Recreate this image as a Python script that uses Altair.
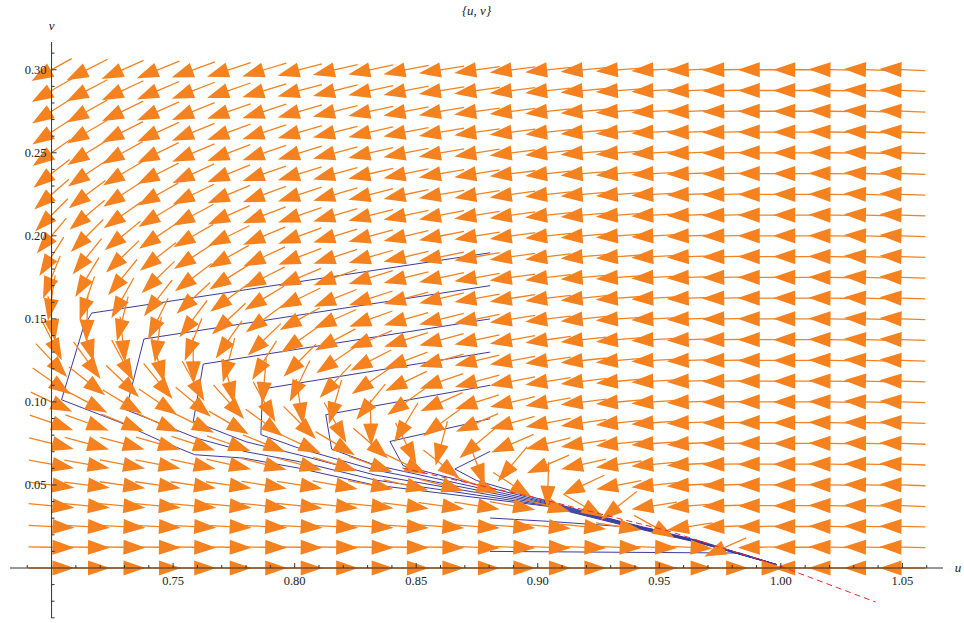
import altair as alt
import pandas as pd

# ---- plot range (data units) ----
U_MIN, U_MAX = 0.6829, 1.0667
V_MIN, V_MAX = -0.0301, 0.3167
W, H = 933, 576

# ---- vector field: grid and arrow directions (degrees on screen, counter-clockwise from +u) ----
grid_u = [0.7000, 0.7146, 0.7292, 0.7438, 0.7583, 0.7729, 0.7875, 0.8021, 0.8167, 0.8313, 0.8458, 0.8604, 0.8750,
          0.8896, 0.9042, 0.9188, 0.9333, 0.9479, 0.9625, 0.9771, 0.9917, 1.0063, 1.0208, 1.0354, 1.0500]
grid_v = [0.0, 0.0125, 0.025, 0.0375, 0.05, 0.0625, 0.075, 0.0875, 0.1, 0.1125, 0.125, 0.1375, 0.15,
          0.1625, 0.175, 0.1875, 0.2, 0.2125, 0.225, 0.2375, 0.25, 0.2625, 0.275, 0.2875, 0.3]
dir_rows = [
    [0, 0, 0, 0, 0, 0, 0, 0, 0, 0, 0, 0, 0, 0, 0, 0, 0, 0, 0, 0, 0, 180, 180, 180, 180],
    [-1, -1, -1, -1, -1, -1, -1, -1, -1, -1, -1, -1, -2, -2, -2, -2, -2, -2, -3, -156, -179, 180, 179, 179, 179],
    [-3, -3, -3, -3, -3, -3, -3, -3, -3, -3, -4, -4, -4, -4, -5, -6, -9, -29, -171, -178, -179, 180, 179, 179, 179],
    [-5, -5, -5, -5, -5, -5, -6, -6, -6, -6, -7, -8, -9, -10, -15, -30, -142, -171, -176, -178, -180, 180, 179, 179, 178],
    [-7, -7, -8, -8, -8, -8, -9, -9, -10, -11, -13, -15, -20, -33, -92, -155, -169, -174, -177, -178, -180, 180, 179, 179, 178],
    [-10, -10, -11, -11, -12, -13, -14, -15, -17, -20, -26, -38, -70, -130, -157, -167, -172, -175, -177, -179, -180, 180, 179, 179, 178],
    [-14, -15, -15, -16, -18, -19, -22, -25, -31, -41, -63, -105, -140, -157, -166, -171, -174, -176, -177, -179, -180, 180, 179, 179, 178],
    [-19, -20, -22, -24, -26, -30, -36, -45, -61, -89, -121, -144, -157, -164, -169, -172, -174, -176, -178, -179, -180, 180, 179, 179, 178],
    [-25, -28, -31, -34, -40, -48, -61, -81, -106, -129, -145, -156, -162, -167, -170, -173, -175, -176, -178, -179, -180, 180, 179, 178, 178],
    [-35, -38, -44, -51, -61, -76, -95, -116, -133, -146, -155, -161, -165, -169, -171, -173, -175, -177, -178, -179, -180, 180, 179, 178, 178],
    [-47, -54, -62, -74, -89, -105, -122, -135, -146, -153, -159, -164, -167, -170, -172, -174, -175, -177, -178, -179, -180, 180, 179, 178, 178],
    [-63, -73, -84, -98, -112, -125, -136, -145, -152, -157, -162, -165, -168, -170, -172, -174, -175, -177, -178, -179, -180, 180, 179, 178, 178],
    [-81, -92, -104, -116, -127, -137, -144, -151, -156, -160, -164, -166, -169, -171, -173, -174, -176, -177, -178, -179, -180, 180, 179, 178, 178],
    [-99, -109, -119, -128, -137, -144, -149, -154, -158, -162, -165, -167, -170, -171, -173, -174, -176, -177, -178, -179, -180, 180, 179, 178, 178],
    [-112, -121, -129, -136, -143, -148, -153, -157, -160, -163, -166, -168, -170, -172, -173, -175, -176, -177, -178, -179, -180, 180, 179, 178, 178],
    [-122, -129, -136, -142, -147, -151, -155, -159, -162, -164, -167, -169, -170, -172, -173, -175, -176, -177, -178, -179, -180, 180, 179, 178, 178],
    [-130, -135, -141, -146, -150, -154, -157, -160, -163, -165, -167, -169, -171, -172, -174, -175, -176, -177, -178, -179, -180, 180, 179, 178, 178],
    [-135, -140, -145, -149, -152, -156, -159, -161, -164, -166, -168, -169, -171, -172, -174, -175, -176, -177, -178, -179, -180, 180, 179, 178, 178],
    [-139, -143, -147, -151, -154, -157, -160, -162, -164, -166, -168, -170, -171, -172, -174, -175, -176, -177, -178, -179, -180, 180, 179, 178, 178],
    [-142, -146, -149, -153, -155, -158, -161, -163, -165, -167, -168, -170, -171, -173, -174, -175, -176, -177, -178, -179, -180, 180, 179, 178, 178],
    [-145, -148, -151, -154, -157, -159, -161, -163, -165, -167, -169, -170, -171, -173, -174, -175, -176, -177, -178, -179, -180, 180, 179, 178, 178],
    [-147, -150, -153, -155, -158, -160, -162, -164, -166, -167, -169, -170, -172, -173, -174, -175, -176, -177, -178, -179, -180, 180, 179, 178, 178],
    [-148, -151, -154, -156, -158, -161, -162, -164, -166, -168, -169, -170, -172, -173, -174, -175, -176, -177, -178, -179, -180, 180, 179, 178, 178],
    [-150, -152, -155, -157, -159, -161, -163, -165, -166, -168, -169, -171, -172, -173, -174, -175, -176, -177, -178, -179, -180, 180, 179, 178, 178],
    [-151, -153, -156, -158, -160, -162, -163, -165, -167, -168, -169, -171, -172, -173, -174, -175, -176, -177, -178, -179, -180, 180, 179, 178, 178],
]
rows = []
for j, v in enumerate(grid_v):
    for i, u in enumerate(grid_u):
        d = dir_rows[j][i]
        rows.append({"u": u, "v": v, "rot": (360 - d) % 360})
field = pd.DataFrame(rows)

# ---- trajectories (vertices) ----
traj_1 = [(0.8804, 0.1898), (0.7165, 0.1535), (0.7130, 0.1445), (0.7041, 0.1013), (0.7281, 0.0877), (0.7439, 0.0772),
          (0.7589, 0.0682), (0.7788, 0.0662), (0.8014, 0.0602), (0.8323, 0.0501), (0.9043, 0.0371), (0.9350, 0.0258),
          (0.9667, 0.0150), (0.9983, 0.0020)]
traj_2 = [(0.8804, 0.1700), (0.7380, 0.1379), (0.7306, 0.0953), (0.7600, 0.0780), (0.7800, 0.0700), (0.8020, 0.0640),
          (0.8330, 0.0530), (0.9043, 0.0375), (0.9350, 0.0262), (0.9667, 0.0152), (0.9983, 0.0020)]
traj_3 = [(0.8804, 0.1500), (0.7624, 0.1228), (0.7583, 0.0883), (0.7800, 0.0760), (0.8020, 0.0680), (0.8330, 0.0560),
          (0.9043, 0.0380), (0.9350, 0.0265), (0.9667, 0.0154), (0.9983, 0.0020)]
traj_4 = [(0.8804, 0.1300), (0.7868, 0.1078), (0.7861, 0.0803), (0.8020, 0.0720), (0.8330, 0.0590), (0.9043, 0.0385),
          (0.9350, 0.0268), (0.9667, 0.0156), (0.9983, 0.0020)]
traj_5 = [(0.8804, 0.1100), (0.8128, 0.0923), (0.8152, 0.0716), (0.8330, 0.0620), (0.9043, 0.0390), (0.9350, 0.0271),
          (0.9667, 0.0158), (0.9983, 0.0020)]
traj_6 = [(0.8804, 0.0899), (0.8392, 0.0762), (0.8446, 0.0616), (0.8700, 0.0520), (0.9043, 0.0395), (0.9350, 0.0274),
          (0.9667, 0.0160), (0.9983, 0.0020)]
traj_7 = [(0.8804, 0.0702), (0.8659, 0.0596), (0.8748, 0.0527), (0.9043, 0.0400), (0.9350, 0.0277), (0.9667, 0.0162),
          (0.9983, 0.0020)]
traj_8 = [(0.8804, 0.0301), (0.9043, 0.0281), (0.9461, 0.0238), (0.9667, 0.0152), (0.9983, 0.0020)]
traj_9 = [(0.8804, 0.0100), (0.9832, 0.0090), (0.9983, 0.0020)]
trajs = [traj_1, traj_2, traj_3, traj_4, traj_5, traj_6, traj_7, traj_8, traj_9]
trows = []
for k, t in enumerate(trajs):
    for n, (u, v) in enumerate(t):
        trows.append({"traj": k, "n": n, "u": u, "v": v})
traj_df = pd.DataFrame(trows)

# ---- red dashed curve ----
red_u = [0.8443, 0.870, 0.900, 0.953, 1.000, 1.039]
red_v = [0.0602, 0.0517, 0.0420, 0.0226, 0.001, -0.0205]
red_df = pd.DataFrame({"u": red_u, "v": red_v, "n": list(range(len(red_u)))})

# ---- axes ticks ----
x_major = [0.75, 0.80, 0.85, 0.90, 0.95, 1.00, 1.05]
x_labels = ["0.75", "0.80", "0.85", "0.90", "0.95", "1.00", "1.05"]
x_minor = [0.69, 0.70, 0.71, 0.72, 0.73, 0.74, 0.76, 0.77, 0.78, 0.79, 0.81, 0.82, 0.83, 0.84, 0.86, 0.87, 0.88,
           0.89, 0.91, 0.92, 0.93, 0.94, 0.96, 0.97, 0.98, 0.99, 1.01, 1.02, 1.03, 1.04, 1.06]
y_major = [0.05, 0.10, 0.15, 0.20, 0.25, 0.30]
y_labels = ["0.05", "0.10", "0.15", "0.20", "0.25", "0.30"]
y_minor = [-0.03, -0.02, -0.01, 0.01, 0.02, 0.03, 0.04, 0.06, 0.07, 0.08, 0.09, 0.11, 0.12, 0.13, 0.14, 0.16, 0.17,
           0.18, 0.19, 0.21, 0.22, 0.23, 0.24, 0.26, 0.27, 0.28, 0.29, 0.31]

FONT = "Liberation Serif"
xs = alt.Scale(domain=[U_MIN, U_MAX], nice=False, zero=False)
ys = alt.Scale(domain=[V_MIN, V_MAX], nice=False, zero=False)

ARROW = "M -1 -0.028 L 0.04 -0.028 L 0.04 -0.33 L 1 0 L 0.04 0.33 L 0.04 0.028 L -1 0.028 Z"

traj_layer = alt.Chart(traj_df).mark_line(color="#3a3a9e", strokeWidth=1).encode(
    x=alt.X("u:Q", scale=xs, axis=None),
    y=alt.Y("v:Q", scale=ys, axis=None),
    detail="traj:N",
    order="n:Q",
)

arrow_layer = alt.Chart(field).mark_point(
    shape=ARROW, filled=True, size=2116, opacity=1, color="#F5821F", strokeWidth=0
).encode(
    x=alt.X("u:Q", scale=xs, axis=None),
    y=alt.Y("v:Q", scale=ys, axis=None),
    angle=alt.Angle("rot:Q", scale=None),
)

red_layer = alt.Chart(red_df).mark_line(color="#ee2b2b", strokeWidth=1, strokeDash=[6, 4]).encode(
    x=alt.X("u:Q", scale=xs, axis=None),
    y=alt.Y("v:Q", scale=ys, axis=None),
    order="n:Q",
)

AX = "#333333"
x_axis_line = alt.Chart(pd.DataFrame({"a": [U_MIN], "b": [U_MAX], "c": [0.0]})).mark_rule(color=AX, strokeWidth=1).encode(
    x=alt.X("a:Q", scale=xs, axis=None), x2="b:Q", y=alt.Y("c:Q", scale=ys, axis=None)
)
y_axis_line = alt.Chart(pd.DataFrame({"a": [V_MIN], "b": [V_MAX], "c": [0.7]})).mark_rule(color=AX, strokeWidth=1).encode(
    y=alt.Y("a:Q", scale=ys, axis=None), y2="b:Q", x=alt.X("c:Q", scale=xs, axis=None)
)
x_major_ticks = alt.Chart(pd.DataFrame({"t": x_major, "z": 0.0})).mark_rule(color=AX, y2Offset=-5).encode(
    x=alt.X("t:Q", scale=xs, axis=None), y=alt.Y("z:Q", scale=ys, axis=None), y2="z:Q"
)
x_minor_ticks = alt.Chart(pd.DataFrame({"t": x_minor, "z": 0.0})).mark_rule(color=AX, y2Offset=-3).encode(
    x=alt.X("t:Q", scale=xs, axis=None), y=alt.Y("z:Q", scale=ys, axis=None), y2="z:Q"
)
y_major_ticks = alt.Chart(pd.DataFrame({"t": y_major, "z": 0.7})).mark_rule(color=AX, x2Offset=5).encode(
    y=alt.Y("t:Q", scale=ys, axis=None), x=alt.X("z:Q", scale=xs, axis=None), x2="z:Q"
)
y_minor_ticks = alt.Chart(pd.DataFrame({"t": y_minor, "z": 0.7})).mark_rule(color=AX, x2Offset=3).encode(
    y=alt.Y("t:Q", scale=ys, axis=None), x=alt.X("z:Q", scale=xs, axis=None), x2="z:Q"
)
x_tick_text = alt.Chart(pd.DataFrame({"t": x_major, "z": 0.0, "s": x_labels})).mark_text(
    font=FONT, fontSize=12.5, color="#222222", dy=13, baseline="middle", align="center"
).encode(x=alt.X("t:Q", scale=xs, axis=None), y=alt.Y("z:Q", scale=ys, axis=None), text="s:N")
y_tick_text = alt.Chart(pd.DataFrame({"t": y_major, "z": 0.7, "s": y_labels})).mark_text(
    font=FONT, fontSize=12.5, color="#222222", dx=-5, baseline="middle", align="right"
).encode(x=alt.X("z:Q", scale=xs, axis=None), y=alt.Y("t:Q", scale=ys, axis=None), text="s:N")
x_title = alt.Chart(pd.DataFrame({"a": [U_MAX], "b": [0.0], "s": ["u"]})).mark_text(
    font=FONT, fontSize=13, fontStyle="italic", color="#222222", dx=15, baseline="middle", align="center"
).encode(x=alt.X("a:Q", scale=xs, axis=None), y=alt.Y("b:Q", scale=ys, axis=None), text="s:N")
y_title = alt.Chart(pd.DataFrame({"a": [0.7], "b": [V_MAX], "s": ["v"]})).mark_text(
    font=FONT, fontSize=13, fontStyle="italic", color="#222222", dy=-16, baseline="middle", align="center"
).encode(x=alt.X("a:Q", scale=xs, axis=None), y=alt.Y("b:Q", scale=ys, axis=None), text="s:N")

chart = alt.layer(
    traj_layer, arrow_layer, red_layer,
    x_axis_line, y_axis_line, x_major_ticks, x_minor_ticks, y_major_ticks, y_minor_ticks,
    x_tick_text, y_tick_text, x_title, y_title,
).properties(
    width=W, height=H,
    title=alt.TitleParams("{u, v}", font=FONT, fontSize=13, fontWeight="normal", fontStyle="italic",
                          color="#222222", anchor="middle", offset=2),
    autosize=alt.AutoSizeParams(type="none"),
    padding={"left": 10, "top": 42, "right": 21, "bottom": 5},
    background="white",
).configure_view(strokeWidth=0, stroke=None)

chart.save("out.html", embed_options={"renderer": "svg", "actions": False})
